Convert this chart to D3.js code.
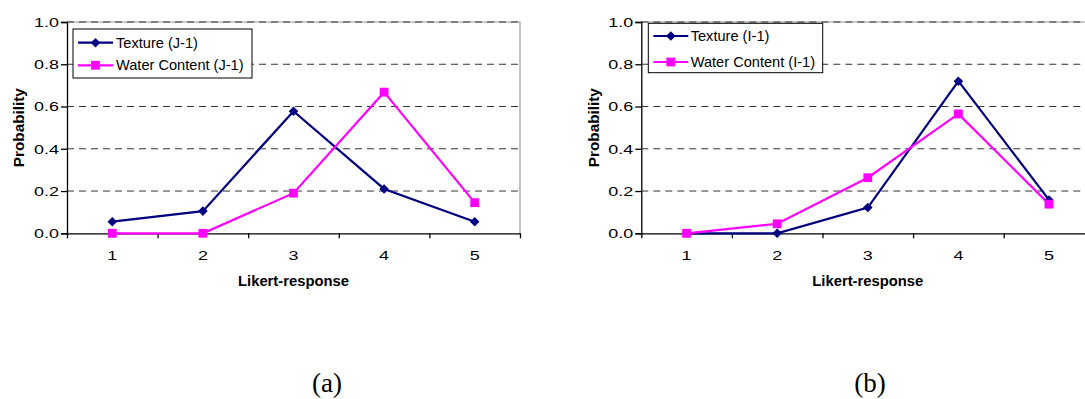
<!DOCTYPE html>
<html>
<head>
<meta charset="utf-8">
<script src="https://cdn.jsdelivr.net/npm/d3@7"></script>
<style>
  body { margin: 0; background: #fff; }
  svg { display: block; }
  text { font-family: Arial, "Liberation Sans", sans-serif; fill: #000; }
</style>
</head>
<body>
<div id="chart"></div>
<script>
// data
const categories = [1, 2, 3, 4, 5];
const yTicks = [0, 0.2, 0.4, 0.6, 0.8, 1.0];

const textureJ = [0.055, 0.105, 0.578, 0.21, 0.055];
const waterJ = [0, 0, 0.19, 0.668, 0.145];
const textureI = [0, 0, 0.122, 0.72, 0.158];
const waterI = [0, 0.045, 0.263, 0.565, 0.138];

const seriesNamesA = ["Texture (J-1)", "Water Content (J-1)"];
const seriesNamesB = ["Texture (I-1)", "Water Content (I-1)"];
const captions = ["(a)", "(b)"];

const navy = "#000080";
const magenta = "#ff00ff";

const width = 1085;
const height = 399;

let svg = d3.select("#chart")
.append("svg")
.attr("width", width)
.attr("height", height);

// panel layout
const panels = [
    {
        left: 67, right: 520, top: 22, bottom: 233.3,
        series: [textureJ, waterJ], names: seriesNamesA, caption: captions[0],
        legend: { x: 73, y: 29, w: 179, h: 49, rowY: [13.7, 36.3], lineX: [5, 40], textX: 43 },
        yLabelX: 18, captionX: 327
    },
    {
        left: 641.3, right: 1094.3, top: 22, bottom: 233.3,
        series: [textureI, waterI], names: seriesNamesB, caption: captions[1],
        legend: { x: 648.3, y: 23.3, w: 174.4, h: 49.4, rowY: [12.7, 38.7], lineX: [5, 40], textX: 42.4 },
        yLabelX: 593, captionX: 870
    }
];

const colors = [navy, magenta];

// stretched text, the source picture is wider than normal Arial
const stretchText = (g, x, y, str, opts) => {
    const t = g.append("text")
        .attr("transform", `translate(${x},${y}) scale(${opts.sx || 1},1)`)
        .attr("text-anchor", opts.anchor || "start")
        .attr("font-size", opts.size)
        .text(str);
    if (opts.weight) t.attr("font-weight", opts.weight);
    if (opts.family) t.style("font-family", opts.family);
    return t;
};

const drawMarker = (g, x, y, color, kind) => {
    if (kind === 0) {
        g.append("path")
        .attr("d", d3.symbol().type(d3.symbolDiamond2).size(58)())
        .attr("transform", `translate(${x},${y})`)
        .attr("fill", color);
    } else {
        g.append("rect")
        .attr("x", x - 4.4)
        .attr("y", y - 4.4)
        .attr("width", 8.8)
        .attr("height", 8.8)
        .attr("fill", color);
    }
};

panels.forEach(p => {
    const g = svg.append("g");

    const x = d3.scaleLinear()
    .domain([0.5, 5.5])
    .range([p.left, p.right]);

    const y = d3.scaleLinear()
    .domain([0, 1])
    .range([p.bottom, p.top]);

    // plot area border (grey)
    g.append("path")
    .attr("d", `M${p.left},${y(1)}H${p.right}V${p.bottom}`)
    .attr("fill", "none")
    .attr("stroke", "#9a9a9a")
    .attr("stroke-width", 1.2);

    // dashed gridlines
    g.append("g")
    .selectAll("line")
    .data(yTicks.filter(d => d > 0))
    .enter()
    .append("line")
    .attr("x1", p.left)
    .attr("x2", p.right)
    .attr("y1", d => y(d))
    .attr("y2", d => y(d))
    .attr("stroke", "#333")
    .attr("stroke-width", 1)
    .attr("stroke-dasharray", "7,5");

    // y axis
    const yAxis = d3.axisLeft(y)
    .tickValues(yTicks)
    .tickSize(6)
    .tickFormat("");
    const ya = g.append("g")
    .attr("transform", `translate(${p.left},0)`)
    .call(yAxis);
    ya.select(".domain").attr("stroke", "#000").attr("stroke-width", 1.3);
    ya.selectAll(".tick line").attr("stroke", "#000").attr("stroke-width", 1.3);

    yTicks.forEach(d => {
        stretchText(g, p.left - 8, y(d) + 4.8, d3.format(".1f")(d), { size: 13.6, sx: 1.32, anchor: "end" });
    });

    // x axis, ticks between categories
    const xAxis = d3.axisBottom(x)
    .tickValues(d3.range(0.5, 6, 1))
    .tickSize(5)
    .tickSizeOuter(0)
    .tickFormat("");
    const xa = g.append("g")
    .attr("transform", `translate(0,${p.bottom})`)
    .call(xAxis);
    xa.select(".domain").attr("stroke", "#000").attr("stroke-width", 1.3);
    xa.selectAll(".tick line").attr("stroke", "#000").attr("stroke-width", 1.3);

    categories.forEach(c => {
        stretchText(g, x(c), p.bottom + 27, String(c), { size: 13.6, sx: 1.32, anchor: "middle" });
    });

    // axis titles
    stretchText(g, (p.left + p.right) / 2, 286, "Likert-response", { size: 14.8, weight: "bold", anchor: "middle" });
    g.append("text")
    .attr("transform", `translate(${p.yLabelX + 5.5},${(p.top + p.bottom) / 2}) rotate(-90)`)
    .attr("text-anchor", "middle")
    .attr("font-size", 15.3)
    .attr("font-weight", "bold")
    .text("Probability");

    // series lines and markers
    const line = d3.line()
    .x((d, i) => x(categories[i]))
    .y(d => y(d));

    p.series.forEach((s, k) => {
        g.append("path")
        .datum(s)
        .attr("d", line)
        .attr("fill", "none")
        .attr("stroke", colors[k])
        .attr("stroke-width", 2.2);
    });
    p.series.forEach((s, k) => {
        s.forEach((v, i) => drawMarker(g, x(categories[i]), y(v), colors[k], k));
    });

    // legend
    const L = p.legend;
    const lg = g.append("g")
    .attr("transform", `translate(${L.x},${L.y})`);
    lg.append("rect")
    .attr("width", L.w)
    .attr("height", L.h)
    .attr("fill", "#fff")
    .attr("stroke", "#000")
    .attr("stroke-width", 1);
    p.names.forEach((name, k) => {
        const ry = L.rowY[k];
        lg.append("line")
        .attr("x1", L.lineX[0])
        .attr("x2", L.lineX[1])
        .attr("y1", ry)
        .attr("y2", ry)
        .attr("stroke", colors[k])
        .attr("stroke-width", 2.2);
        drawMarker(lg, (L.lineX[0] + L.lineX[1]) / 2, ry, colors[k], k);
        stretchText(lg, L.textX, ry + 5, name, { size: 14.6 });
    });

    // caption under the panel
    stretchText(svg, p.captionX, 392, p.caption, { size: 27, anchor: "middle", family: "'Times New Roman', 'Liberation Serif', serif" });
});
</script>
</body>
</html>
